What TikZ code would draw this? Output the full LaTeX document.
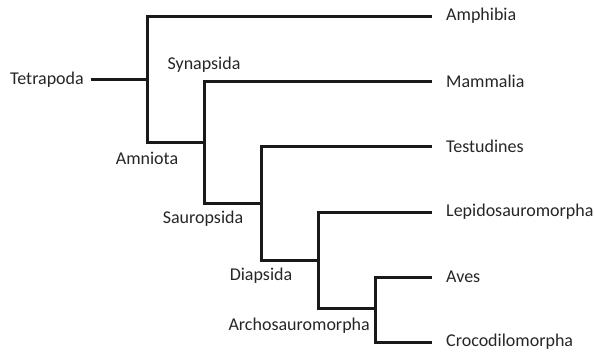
\documentclass[tikz,border=0pt]{standalone}
\usepackage{fontspec}
\setmainfont{Carlito}
\begin{document}
\begin{tikzpicture}[x=1pt,y=-1pt,
  branch/.style={line width=3pt,line join=miter,black!90},
  leaf/.style={anchor=west,inner xsep=14pt,inner ysep=0pt,text=black!85},
  clade/.style={inner sep=0pt,text=black!85},
  font=\fontsize{18}{21}\selectfont]
\useasboundingbox (0,0) rectangle (594,354);
% junctions
\coordinate (tetJ) at (147,79);
\coordinate (amnJ) at (204,142);
\coordinate (sauJ) at (261,203);
\coordinate (diaJ) at (318,260);
\coordinate (arcJ) at (375,308);
% tips
\node[leaf] (amphibia) at (432,16) {Amphibia};
\node[leaf] (mammalia) at (432,81) {Mammalia};
\node[leaf] (testudines) at (432,146) {Testudines};
\node[leaf] (lepido) at (432,212) {Lepidosauromorpha};
\node[leaf] (aves) at (432,277) {Aves};
\node[leaf] (croco) at (432,342) {Crocodilomorpha};
% clade names
\node[clade,anchor=east] (tetrapoda) at (84,80) {Tetrapoda};
\node[clade] (synapsida) at (204,65) {Synapsida};
\node[clade] (amniota) at (147,158) {Amniota};
\node[clade] (sauropsida) at (203,219) {Sauropsida};
\node[clade] (diapsida) at (261,276) {Diapsida};
\node[clade,anchor=east] (archo) at (370,326) {Archosauromorpha};
% tree
\draw[branch] (tetrapoda.east) ++(7,-1) -- (tetJ);
\draw[branch] (amphibia.west) -| (tetJ) |- (amnJ);
\draw[branch] (mammalia.west) -| (amnJ) |- (sauJ);
\draw[branch] (testudines.west) -| (sauJ) |- (diaJ);
\draw[branch] (lepido.west) -| (diaJ) |- (arcJ);
\draw[branch] (aves.west) -| (arcJ) |- (croco.west);
\end{tikzpicture}
\end{document}
